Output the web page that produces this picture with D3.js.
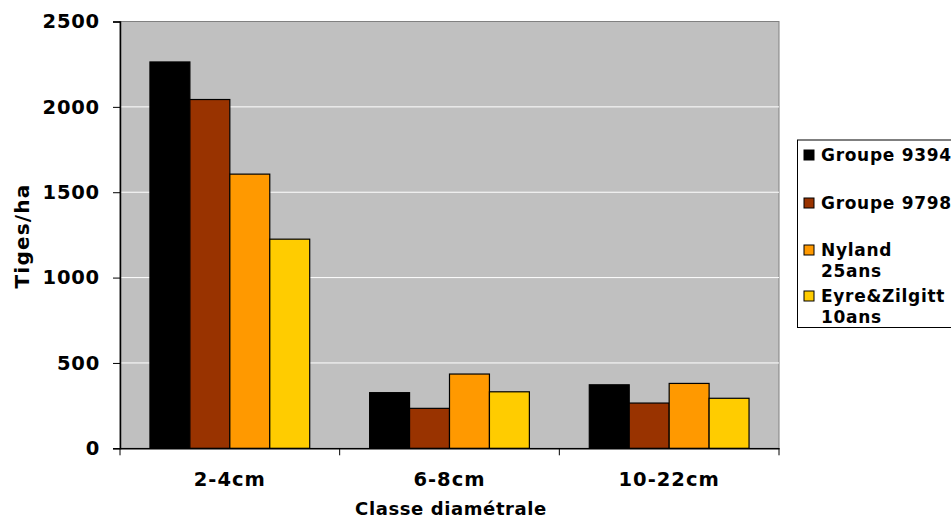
<!DOCTYPE html>
<html><head><meta charset="utf-8">
<script src="https://cdn.jsdelivr.net/npm/d3@7"></script>
<style>body{margin:0;background:#fff}svg text{font-family:"DejaVu Sans",Verdana,sans-serif;font-weight:bold}</style>
</head><body><svg id="c" width="951" height="518"></svg>
<script>
const categories = ["2-4cm", "6-8cm", "10-22cm"];
const seriesNames = ["Groupe 9394", "Groupe 9798", "Nyland 25ans", "Eyre&Zilgitt 10ans"];
const legendLines = [["Groupe 9394"], ["Groupe 9798"], ["Nyland", "25ans"], ["Eyre&Zilgitt", "10ans"]];
const groupe9394 = [2263, 326, 372];
const groupe9798 = [2043, 234, 265];
const nyland25 = [1606, 435, 380];
const eyreZilgitt10 = [1225, 331, 293];
const yTicks = [0, 500, 1000, 1500, 2000, 2500];
const colors = ["#000000", "#993300", "#FF9900", "#FFCC00"];
const series = [groupe9394, groupe9798, nyland25, eyreZilgitt10];

const svg = d3.select("#c");
const L = 120, R = 779, T = 21.5, B = 448.3;
const x = d3.scaleBand().domain(categories).range([L, R]).paddingInner(0).paddingOuter(0);
const y = d3.scaleLinear().domain([0, 2500]).range([B, T]);

svg.append("rect").attr("x", L).attr("y", T).attr("width", R - L).attr("height", B - T)
  .attr("fill", "#C0C0C0").attr("stroke", "#808080").attr("stroke-width", 1);

svg.append("g").selectAll("line").data(yTicks.filter(d => d > 0 && d < 2500)).join("line")
  .attr("x1", L).attr("x2", R).attr("y1", d => y(d)).attr("y2", d => y(d))
  .attr("stroke", "#fff").attr("stroke-width", 1);

const bw = x.bandwidth();
const barW = bw / 5.5;
const inner = d3.scaleBand().domain(d3.range(series.length)).range([0, barW * 4]);
series.forEach((vals, si) => {
  svg.append("g").selectAll("rect").data(vals).join("rect")
    .attr("x", (d, i) => x(categories[i]) + barW * 0.75 + inner(si))
    .attr("y", d => y(d)).attr("width", barW).attr("height", d => B - y(d))
    .attr("fill", colors[si]).attr("stroke", "#000").attr("stroke-width", 1.2);
});

const yAxis = svg.append("g").attr("transform", `translate(${L},0)`)
  .call(d3.axisLeft(y).tickValues(yTicks).tickFormat(d3.format("d")).tickSize(7).tickPadding(13));
yAxis.select(".domain").attr("stroke", "#000").attr("stroke-width", 1.5);
yAxis.selectAll(".tick line").attr("stroke", "#000");
yAxis.selectAll("text").attr("font-size", 19.5).attr("letter-spacing", 0.8).attr("fill", "#000");

const xAxis = svg.append("g").attr("transform", `translate(0,${B})`)
  .call(d3.axisBottom(x).tickSize(0).tickPadding(20));
xAxis.select(".domain").attr("stroke", "#000").attr("stroke-width", 1.5);
xAxis.selectAll("text").attr("font-size", 19.5).attr("letter-spacing", 1).attr("fill", "#000").attr("dy", "0.9em");
svg.append("g").selectAll("line").data(d3.range(categories.length + 1)).join("line")
  .attr("x1", i => L + i * bw).attr("x2", i => L + i * bw).attr("y1", B).attr("y2", B + 7)
  .attr("stroke", "#000");

svg.append("text").attr("x", 451).attr("y", 515).attr("text-anchor", "middle")
  .attr("font-size", 18).attr("letter-spacing", 0.6).text("Classe diamétrale");
svg.append("text").attr("transform", "translate(29,236) rotate(-90)").attr("text-anchor", "middle")
  .attr("font-size", 20).attr("letter-spacing", 1.2).text("Tiges/ha");

// legend
const lg = svg.append("g");
lg.append("rect").attr("x", 797.5).attr("y", 140).attr("width", 170).attr("height", 187.5)
  .attr("fill", "#fff").attr("stroke", "#000").attr("stroke-width", 1);
const rowY = [161, 209, 256, 302];
legendLines.forEach((lines, i) => {
  lg.append("rect").attr("x", 804).attr("y", rowY[i] - 11).attr("width", 10).attr("height", 10)
    .attr("fill", colors[i]).attr("stroke", "#000").attr("stroke-width", 1);
  const t = lg.append("text").attr("x", 821).attr("y", rowY[i]).attr("font-size", 17).attr("letter-spacing", 0.7);
  lines.forEach((ln, j) => t.append("tspan").attr("x", 821).attr("dy", j === 0 ? 0 : 21).text(ln));
});
</script></body></html>
